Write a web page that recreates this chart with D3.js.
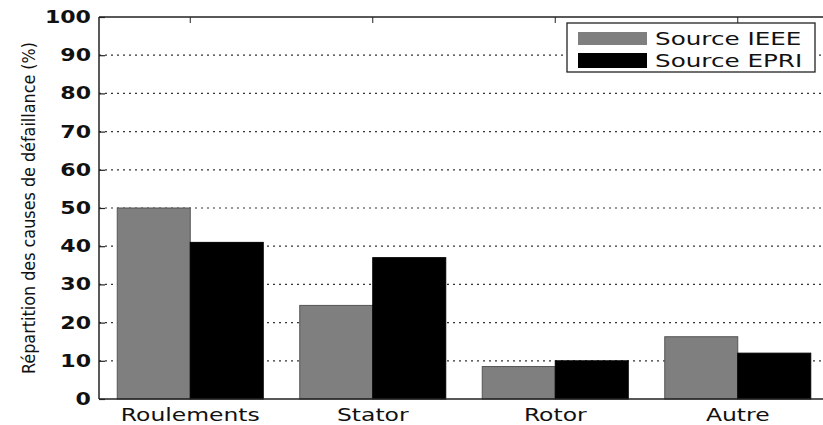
<!DOCTYPE html>
<html>
<head>
<meta charset="utf-8">
<script src="https://cdn.jsdelivr.net/npm/d3@7"></script>
<style>
  html, body { margin: 0; padding: 0; background: #fff; }
  svg { display: block; }
  text { font-family: "DejaVu Sans", sans-serif; fill: #111; }
</style>
</head>
<body>
<svg id="chart" width="823" height="425"></svg>
<script>
const categories = ["Roulements", "Stator", "Rotor", "Autre"];
const seriesNames = ["Source IEEE", "Source EPRI"];
const ieeeValues = [50, 24.5, 8.5, 16.3];
const epriValues = [41, 37, 10, 12];
const yTicks = [0, 10, 20, 30, 40, 50, 60, 70, 80, 90, 100];
const yLabel = "Répartition des causes de défaillance (%)";

const colors = ["#7f7f7f", "#000000"];
const series = [ieeeValues, epriValues];

const svg = d3.select("#chart");
const mLeft = 99, mRight = 829, mTop = 17, mBottom = 399;

const x = d3.scaleBand().domain(categories).range([mLeft, mRight]).paddingInner(0.2).paddingOuter(0.1);
const xs = d3.scaleBand().domain(d3.range(series.length)).range([0, x.bandwidth()]);
const y = d3.scaleLinear().domain([0, 100]).range([mBottom, mTop]);

// grid
svg.append("g").selectAll("line").data(yTicks.filter(t => t > 0 && t < 100)).join("line")
  .attr("x1", mLeft).attr("x2", mRight)
  .attr("y1", d => y(d)).attr("y2", d => y(d))
  .attr("stroke", "#333").attr("stroke-width", 1.2).attr("stroke-dasharray", "2,4");

// bars
series.forEach((vals, si) => {
  svg.append("g").selectAll("rect").data(vals).join("rect")
    .attr("x", (d, i) => x(categories[i]) + xs(si))
    .attr("y", d => y(d))
    .attr("width", xs.bandwidth())
    .attr("height", d => y(0) - y(d))
    .attr("fill", colors[si])
    .attr("stroke", si === 0 ? "#555" : "#000").attr("stroke-width", 1);
});

// axes frame
const frame = svg.append("g").attr("stroke", "#222").attr("stroke-width", 1.5);
frame.append("line").attr("x1", mLeft).attr("x2", mLeft).attr("y1", mTop).attr("y2", mBottom);
frame.append("line").attr("x1", mLeft).attr("x2", mRight).attr("y1", mBottom).attr("y2", mBottom);
frame.append("line").attr("x1", mLeft).attr("x2", mRight).attr("y1", mTop).attr("y2", mTop);
frame.append("line").attr("x1", mRight).attr("x2", mRight).attr("y1", mTop).attr("y2", mBottom);

// y axis ticks (inward)
const yAxis = d3.axisLeft(y).tickValues(yTicks).tickSize(-6).tickPadding(14).tickFormat(d3.format("d"));
const gy = svg.append("g").attr("transform", `translate(${mLeft},0)`).call(yAxis);
gy.select(".domain").remove();
gy.selectAll(".tick line").attr("stroke", "#222").attr("stroke-width", 1.2);
gy.selectAll(".tick text").attr("font-size", 17).attr("font-family", "DejaVu Sans")
  .attr("fill", "#111").attr("font-weight", "bold")
  .attr("x", 0)
  .attr("transform", "translate(-8,0) scale(1.3,1)");
// right ticks
const gyr = svg.append("g").attr("transform", `translate(${mRight},0)`).call(d3.axisRight(y).tickValues(yTicks).tickSize(-6).tickFormat(""));
gyr.select(".domain").remove();
gyr.selectAll(".tick line").attr("stroke", "#222");

// x axis ticks (inward at top)
const gxTop = svg.append("g").attr("transform", `translate(0,${mTop})`)
  .call(d3.axisTop(x).tickSize(-6).tickFormat(""));
gxTop.select(".domain").remove();
gxTop.selectAll(".tick line").attr("stroke", "#222");

// x labels
const gx = svg.append("g").attr("transform", `translate(0,${mBottom})`)
  .call(d3.axisBottom(x).tickSize(0).tickPadding(0));
gx.select(".domain").remove();
gx.selectAll(".tick text")
  .attr("font-size", 17).attr("font-family", "DejaVu Sans").attr("fill", "#111")
  .attr("dy", null).attr("y", 0)
  .attr("transform", "translate(0,22) scale(1.38,1)");

// y label
svg.append("text")
  .attr("transform", `translate(35,${(mTop + mBottom) / 2}) rotate(-90) scale(1,1.15)`)
  .attr("text-anchor", "middle").attr("font-size", 16)
  .text(yLabel);

// legend
const lg = svg.append("g").attr("transform", "translate(567,23)");
lg.append("rect").attr("width", 248).attr("height", 49).attr("fill", "#fff").attr("stroke", "#222").attr("stroke-width", 1.3);
seriesNames.forEach((name, i) => {
  const row = lg.append("g").attr("transform", `translate(0,${i === 0 ? 9 : 30})`);
  row.append("rect").attr("x", 11).attr("y", 0).attr("width", 69).attr("height", i === 0 ? 13 : 15).attr("fill", colors[i]);
  row.append("text").attr("transform", `translate(88,${i === 0 ? 13 : 14}) scale(1.45,1)`)
    .attr("font-size", 17).text(name);
});
</script>
</body>
</html>
